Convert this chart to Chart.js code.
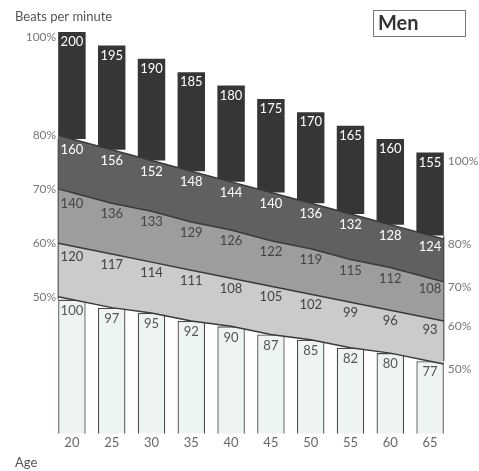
<!DOCTYPE html>
<html>
<head>
<meta charset="utf-8">
<script src="https://cdn.jsdelivr.net/npm/chart.js@4"></script>
<style>
  body { margin: 0; background: #fff; }
  #wrap { width: 479px; height: 471px; position: relative; }
</style>
</head>
<body>
<div id="wrap"><canvas id="hrChart"></canvas></div>
<script>
const ages = ['20', '25', '30', '35', '40', '45', '50', '55', '60', '65'];
const maxHR = [200, 195, 190, 185, 180, 175, 170, 165, 160, 155];
const hr80 = [160, 156, 152, 148, 144, 140, 136, 132, 128, 124];
const hr70 = [140, 136, 133, 129, 126, 122, 119, 115, 112, 108];
const hr60 = [120, 117, 114, 111, 108, 105, 102, 99, 96, 93];
const hr50 = [100, 97, 95, 92, 90, 87, 85, 82, 80, 77];
const pctLabels = ['100%', '80%', '70%', '60%', '50%'];

const FONT = 'Lato, "Open Sans", sans-serif';

// sloped zone bands + value labels, drawn through the chart scales
const zonePlugin = {
    id: 'zones',
    afterDatasetsDraw(chart) {
        const ctx = chart.ctx;
        const x = chart.scales.x;
        const y = chart.scales.y;
        const bar = chart.getDatasetMeta(0).data[0];
        const hw = bar.width / 2;
        const n = ages.length;

        function pts(arr) {
            const p = arr.map((v, i) => ({ x: x.getPixelForValue(i), y: y.getPixelForValue(v) }));
            const first = p[0], second = p[1], last = p[n - 1], prev = p[n - 2];
            const sL = (second.y - first.y) / (second.x - first.x);
            const sR = (last.y - prev.y) / (last.x - prev.x);
            p.unshift({ x: first.x - hw, y: first.y - sL * hw });
            p.push({ x: last.x + hw, y: last.y + sR * hw });
            return p;
        }

        const bands = [
            [hr80, hr70, '#606060'],
            [hr70, hr60, '#9d9d9d'],
            [hr60, hr50, '#cbcbcb']
        ];
        bands.forEach(([top, bottom, color]) => {
            const a = pts(top), b = pts(bottom).reverse();
            ctx.beginPath();
            a.concat(b).forEach((p, i) => i ? ctx.lineTo(p.x, p.y) : ctx.moveTo(p.x, p.y));
            ctx.closePath();
            ctx.fillStyle = color;
            ctx.fill();
        });

        ctx.strokeStyle = '#3a3a3a';
        ctx.lineWidth = 1.5;
        [hr80, hr70, hr60, hr50].forEach(arr => {
            ctx.beginPath();
            pts(arr).forEach((p, i) => i ? ctx.lineTo(p.x, p.y) : ctx.moveTo(p.x, p.y));
            ctx.stroke();
        });
        // outer edges of the band block
        ctx.lineWidth = 1;
        [[0, -hw], [n - 1, hw]].forEach(([i, d]) => {
            ctx.beginPath();
            ctx.moveTo(x.getPixelForValue(i) + d, y.getPixelForValue(hr80[i]));
            ctx.lineTo(x.getPixelForValue(i) + d, y.getPixelForValue(hr50[i]));
            ctx.stroke();
        });

        // numbers
        ctx.font = '13px ' + FONT;
        ctx.textAlign = 'center';
        ctx.textBaseline = 'middle';
        const rows = [
            [maxHR, '#ffffff', 10],
            [hr80, '#ffffff', 11],
            [hr70, '#444444', 11],
            [hr60, '#444444', 11],
            [hr50, '#555555', 11]
        ];
        rows.forEach(([arr, color, off]) => {
            ctx.fillStyle = color;
            arr.forEach((v, i) => ctx.fillText(String(v), x.getPixelForValue(i), y.getPixelForValue(v) + off));
        });

        // percentage marks at both ends
        ctx.fillStyle = '#777777';
        ctx.font = '12px ' + FONT;
        const lines = [maxHR, hr80, hr70, hr60, hr50];
        lines.forEach((arr, k) => {
            const l = pts(arr), r = l[l.length - 1];
            ctx.textAlign = 'right';
            ctx.fillText(pctLabels[k], l[0].x - 2, (k === 0 ? y.getPixelForValue(arr[0]) + 5 : l[0].y));
            ctx.textAlign = 'left';
            ctx.fillText(pctLabels[k], r.x + 4, (k === 0 ? y.getPixelForValue(arr[n - 1]) + 9 : r.y + 5));
        });

        // titles
        ctx.fillStyle = '#555555';
        ctx.font = '13px ' + FONT;
        ctx.textAlign = 'left';
        ctx.fillText('Beats per minute', 15, 17);
        ctx.fillText('Age', 15, 463);

        ctx.strokeStyle = '#777777';
        ctx.lineWidth = 1;
        ctx.strokeRect(373.5, 10.5, 92, 26);
        ctx.fillStyle = '#333333';
        ctx.font = 'bold 20px ' + FONT;
        ctx.fillText('Men', 378, 24);
    }
};

new Chart(document.getElementById('hrChart'), {
    type: 'bar',
    data: {
        labels: ages,
        datasets: [{
            label: '80-100%',
            data: maxHR.map((v, i) => [hr80[i], v]),
            backgroundColor: '#363636',
            borderWidth: 0,
            grouped: false,
            barPercentage: 0.69,
            categoryPercentage: 1
        }, {
            label: 'under 50%',
            data: hr50,
            backgroundColor: '#eef4f1',
            borderColor: '#4a4a4a',
            borderWidth: 1.3,
            borderSkipped: false,
            grouped: false,
            barPercentage: 0.69,
            categoryPercentage: 1
        }]
    },
    options: {
        responsive: true,
        maintainAspectRatio: false,
        animation: false,
        layout: { padding: { left: 52, right: 29, top: 32, bottom: 18 } },
        plugins: { legend: { display: false }, tooltip: { enabled: false } },
        scales: {
            x: {
                grid: { display: false, drawTicks: false },
                border: { display: false },
                ticks: { color: '#666666', font: { size: 13, family: FONT }, padding: 2 }
            },
            y: { display: false, min: 50, max: 200 }
        }
    },
    plugins: [zonePlugin]
});
</script>
</body>
</html>
